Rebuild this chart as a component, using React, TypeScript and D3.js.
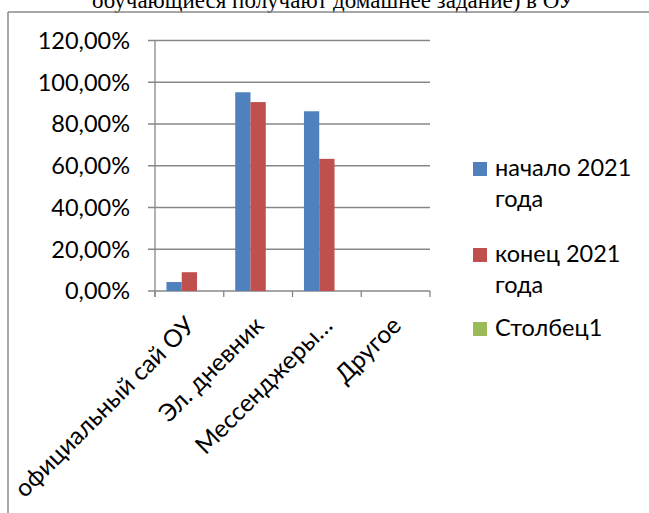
import React from "react";
import * as d3 from "d3";

const title = "обучающиеся получают домашнее задание) в ОУ";
const categories = ["официальный сай ОУ", "Эл. дневник", "Мессенджеры…", "Другое"];
const seriesNames = ["начало 2021 года", "конец 2021 года", "Столбец1"];
const legendLines = [["начало 2021", "года"], ["конец 2021", "года"], ["Столбец1"]];
const start2021 = [0.043, 0.952, 0.861, 0];
const end2021 = [0.09, 0.905, 0.633, 0];
const column1 = [0, 0, 0, 0];
const yTicks = [0, 0.2, 0.4, 0.6, 0.8, 1.0, 1.2];
const colors = ["#4F81BD", "#C0504D", "#9BBB59"];

const W = 649;
const H = 513;
const FONT = "Lato, 'Noto Sans', sans-serif";
const FS = 23.5;

export default function App() {
  const series = [start2021, end2021, column1];
  const x = d3.scaleBand<string>().domain(categories).range([155, 430]).paddingInner(0).paddingOuter(0);
  const y = d3.scaleLinear().domain([0, 1.2]).range([291, 40.5]);
  const bw = x.bandwidth() / 4.5;
  const fmt = (v: number) => (v * 100).toFixed(2).replace(".", ",") + "%";
  const grid = "#878787";
  const boundaries = categories.map((c) => x(c)!).concat([x.range()[1]]);

  return (
    <svg width={W} height={H} style={{ position: "absolute", left: 0, top: 0, background: "#fff" }}>
      <rect x={0} y={0} width={W} height={H} fill="#fff" />
      <text x={92} y={8} textAnchor="start" fontFamily="'Liberation Serif', 'Times New Roman', serif" fontSize={23} fill="#000">
        {title}
      </text>
      {/* frame */}
      <line x1={8} x2={W} y1={12} y2={12} stroke="#8a8a8a" strokeWidth={1.5} />
      <line x1={8} x2={8} y1={12} y2={H} stroke="#8a8a8a" strokeWidth={1.5} />
      {/* gridlines */}
      {yTicks.map((t) => (
        <g key={t}>
          <line x1={148} x2={430} y1={y(t)} y2={y(t)} stroke={grid} strokeWidth={1.3} />
          <text x={130} y={y(t)} dy="0.36em" textAnchor="end" fontFamily={FONT} fontSize={FS} fill="#000">
            {fmt(t)}
          </text>
        </g>
      ))}
      {/* y axis */}
      <line x1={155} x2={155} y1={y(1.2)} y2={y(0) + 6} stroke={grid} strokeWidth={1.3} />
      {boundaries.map((b, i) => (
        <line key={i} x1={b} x2={b} y1={y(0)} y2={y(0) + 6} stroke={grid} strokeWidth={1.3} />
      ))}
      {/* bars */}
      {categories.map((c, ci) => {
        const cx = x(c)! + x.bandwidth() / 2;
        return series.map((s, si) => {
          const v = s[ci];
          if (v <= 0) return null;
          const x0 = cx - 1.5 * bw + si * bw;
          return <rect key={c + si} x={x0} y={y(v)} width={bw} height={y(0) - y(v)} fill={colors[si]} />;
        });
      })}
      {/* category labels */}
      {categories.map((c) => {
        const cx = x(c)! + x.bandwidth() / 2;
        return (
          <text
            key={c}
            transform={`translate(${cx + 1},${321}) rotate(-45)`}
            textAnchor="end"
            dy="0.35em"
            fontFamily={FONT}
            fontSize={24.5}
            fill="#000"
          >
            {c}
          </text>
        );
      })}
      {/* legend */}
      {seriesNames.map((n, i) => {
        const top = [162, 248, 322][i];
        return (
          <g key={n}>
            <rect x={473} y={top} width={14} height={14} fill={colors[i]} />
            {legendLines[i].map((l, li) => (
              <text key={li} x={495} y={top + 14 + li * 30.5} fontFamily={FONT} fontSize={FS} fill="#000">
                {l}
              </text>
            ))}
          </g>
        );
      })}
    </svg>
  );
}
